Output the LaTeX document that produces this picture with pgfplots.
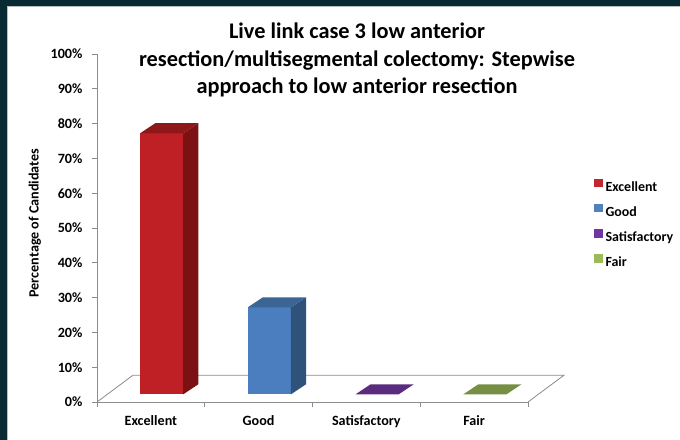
\documentclass[border=0pt]{standalone}
\usepackage{fontspec}
\setmainfont{Carlito}
\usepackage{pgfplots}
\pgfplotsset{compat=1.18}

\definecolor{frame}{HTML}{0A2A33}
\definecolor{framegray}{HTML}{B8BEC0}
\definecolor{axgray}{HTML}{8C8C8C}
\definecolor{exfront}{HTML}{BE2026}
\definecolor{exside}{HTML}{7B1112}
\definecolor{extop}{HTML}{8E1719}
\definecolor{gdfront}{HTML}{4A7EBE}
\definecolor{gdside}{HTML}{2F527A}
\definecolor{gdtop}{HTML}{3A6594}
\definecolor{satop}{HTML}{5B2C7E}
\definecolor{fatop}{HTML}{778F45}
\definecolor{legex}{HTML}{C0282D}
\definecolor{leggd}{HTML}{4F81BD}
\definecolor{legsa}{HTML}{7035A0}
\definecolor{legfa}{HTML}{9BBB59}

\begin{document}
\begin{tikzpicture}
\useasboundingbox (-97bp,-38bp) rectangle (583bp,402bp);
\fill[white] (-97bp,-38bp) rectangle (583bp,402bp);
\fill[frame] (-97bp,396bp) rectangle (583bp,402bp);
\fill[frame] (-97bp,-38bp) rectangle (-90bp,402bp);
\draw[framegray, line width=1bp] (-89.5bp,-38bp) -- (-89.5bp,395.5bp) -- (583bp,395.5bp);

\node[align=center, font=\fontsize{22.4}{28}\selectfont\bfseries] at (260bp,342bp)
  {Live link case 3 low anterior\\resection/multisegmental colectomy: Stepwise\\approach to low anterior resection};

\begin{axis}[
    x=107.75bp, y=3.48bp,
    xmin=0, xmax=4, ymin=0, ymax=100,
    clip=false,
    axis x line*=bottom, axis y line*=left,
    axis line style={draw=axgray, line width=0.8bp},
    tick align=outside,
    major tick length=5bp,
    tick style={draw=axgray, line width=0.8bp},
    xtick={0,1,2,3,4}, xticklabels={},
    extra x ticks={0.5,1.5,2.5,3.5},
    extra x tick labels={Excellent,Good,Satisfactory,Fair},
    extra x tick style={major tick length=0pt},
    ytick={0,10,...,100},
    yticklabel={\pgfmathprintnumber{\tick}\%},
    /pgf/number format/assume math mode=true,
    ticklabel style={font=\fontsize{14.2}{16}\selectfont\bfseries},
    xticklabel style={yshift=-10.5bp},
    yticklabel style={xshift=-6bp},
    ylabel={Percentage of Candidates},
    ylabel style={at={(axis description cs:-0.144,0.514)}, anchor=center,
                  font=\fontsize{14.2}{16}\selectfont\bfseries},
    legend style={at={(1.146,0.511)}, anchor=west, draw=none, fill=none,
                  font=\fontsize{14}{16}\selectfont\bfseries,
                  nodes={inner sep=0pt, text height=10bp, text depth=3bp},
                  row sep=9.8bp,
                  /tikz/every odd column/.append style={column sep=3.5bp}},
    legend cell align=left,
    legend image code/.code={\fill[#1] (0bp,1.2bp) rectangle (7.5bp,8.7bp);},
]
% floor of the 3D plot
\addplot[draw=axgray, line width=0.8bp, forget plot]
  coordinates {(0,0) (0.334,7.7) (4.334,7.7) (4,0)};

% Excellent: 75%
\addplot[fill=exfront, draw=none, forget plot]
  coordinates {(0.4,2.2) (0.8,2.2) (0.8,77.2) (0.4,77.2)} -- cycle;
\addplot[fill=exside, draw=none, forget plot]
  coordinates {(0.8,2.2) (0.94,5.1) (0.94,80.1) (0.8,77.2)} -- cycle;
\addplot[fill=extop, draw=none, forget plot]
  coordinates {(0.4,77.2) (0.8,77.2) (0.94,80.1) (0.54,80.1)} -- cycle;

% Good: 25%
\addplot[fill=gdfront, draw=none, forget plot]
  coordinates {(1.4,2.2) (1.8,2.2) (1.8,27.2) (1.4,27.2)} -- cycle;
\addplot[fill=gdside, draw=none, forget plot]
  coordinates {(1.8,2.2) (1.94,5.1) (1.94,30.1) (1.8,27.2)} -- cycle;
\addplot[fill=gdtop, draw=none, forget plot]
  coordinates {(1.4,27.2) (1.8,27.2) (1.94,30.1) (1.54,30.1)} -- cycle;

% Satisfactory and Fair: 0%
\addplot[fill=satop, draw=none, forget plot]
  coordinates {(2.4,2.2) (2.8,2.2) (2.94,5.1) (2.54,5.1)} -- cycle;
\addplot[fill=fatop, draw=none, forget plot]
  coordinates {(3.4,2.2) (3.8,2.2) (3.94,5.1) (3.54,5.1)} -- cycle;

\addlegendimage{legex}\addlegendentry{Excellent}
\addlegendimage{leggd}\addlegendentry{Good}
\addlegendimage{legsa}\addlegendentry{Satisfactory}
\addlegendimage{legfa}\addlegendentry{Fair}
\end{axis}
\end{tikzpicture}
\end{document}
